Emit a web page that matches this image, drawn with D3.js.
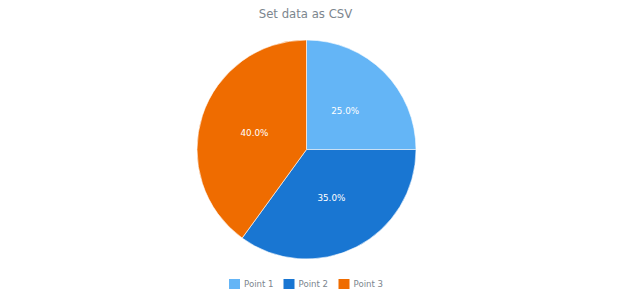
<!DOCTYPE html>
<html>
<head>
<meta charset="utf-8">
<script src="https://cdn.jsdelivr.net/npm/d3@7"></script>
<style>
  body { margin: 0; background: #fff; }
  text { font-family: "DejaVu Sans", Verdana, sans-serif; }
</style>
</head>
<body>
<div id="chart"></div>
<script>
let categories = ["Point 1", "Point 2", "Point 3"]
let values = [25, 35, 40]
let colors = ["#64b5f6", "#1976d2", "#ef6c00"]

let width = 620, height = 300
let cx = 306.5, cy = 149.5, radius = 109.5

let svg = d3.select("#chart")
    .append("svg")
    .attr("width", width)
    .attr("height", height)

// title
svg.append("text")
    .attr("x", 305.5)
    .attr("y", 17.5)
    .attr("text-anchor", "middle")
    .attr("font-size", 11.7)
    .attr("fill", "#7c868e")
    .text("Set data as CSV")

let data = categories.map((c, i) => ({name: c, value: values[i]}))
let total = d3.sum(values)

let color = d3.scaleOrdinal().domain(categories).range(colors)

let pie = d3.pie()
    .value(d => d.value)
    .sort(null)

let arc = d3.arc().innerRadius(0).outerRadius(radius)
let labelArc = d3.arc().innerRadius(radius * 0.5).outerRadius(radius * 0.5)

let g = svg.append("g")
    .attr("transform", "translate(" + cx + "," + cy + ")")

let arcs = pie(data)

g.selectAll("path")
    .data(arcs)
    .enter()
    .append("path")
    .attr("d", arc)
    .attr("fill", d => color(d.data.name))
    .attr("stroke", "#ffffff")
    .attr("stroke-width", 0.6)

g.selectAll("text")
    .data(arcs)
    .enter()
    .append("text")
    .attr("transform", d => "translate(" + labelArc.centroid(d) + ")")
    .attr("text-anchor", "middle")
    .attr("dy", "0.35em")
    .attr("font-size", 8.8)
    .attr("fill", "#ffffff")
    .text(d => (d.data.value / total * 100).toFixed(1) + "%")

// legend
let legendX = [229, 283.5, 338.5]
let legend = svg.append("g")
    .selectAll("g")
    .data(data)
    .enter()
    .append("g")
    .attr("transform", (d, i) => "translate(" + legendX[i] + ",279)")

legend.append("rect")
    .attr("width", 11)
    .attr("height", 10)
    .attr("fill", d => color(d.name))

legend.append("text")
    .attr("x", 15)
    .attr("y", 5)
    .attr("dy", "0.35em")
    .attr("font-size", 8.6)
    .attr("fill", "#7c868e")
    .text(d => d.name)
</script>
</body>
</html>
